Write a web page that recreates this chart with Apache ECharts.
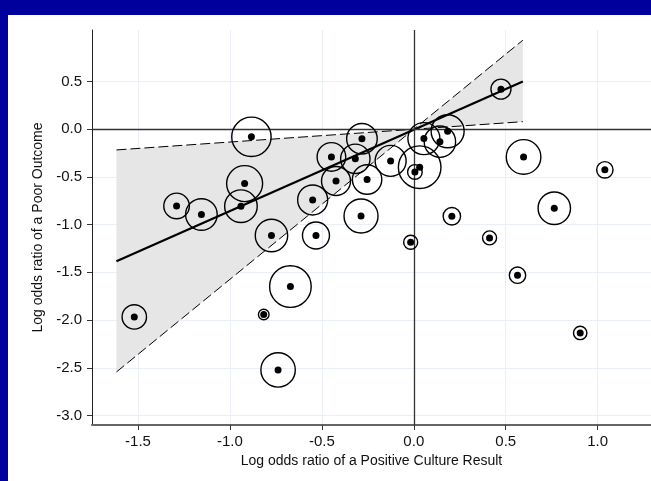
<!DOCTYPE html>
<html lang="en">
<head>
    <meta charset="utf-8">
    <script src="https://cdn.jsdelivr.net/npm/echarts@6.0.0/dist/echarts.min.js"></script>
    <style>
        html, body { margin: 0; padding: 0; background: #00009c; }
        #main { position: absolute; left: 8px; top: 15px; width: 643px; height: 466px; background: #fff; }
    </style>
</head>
<body>
<div id="main"></div>
<script>
    // study estimates: log OR positive culture (x), log OR poor outcome (y), weight
    var studyX = [-1.52, -1.29, -1.155, -0.94, -0.92, -0.883, -0.816, -0.774, -0.738, -0.671, -0.55,
        -0.532, -0.448, -0.423, -0.318, -0.282, -0.287, -0.254, -0.126, -0.017, 0.006, 0.032, 0.055,
        0.142, 0.184, 0.207, 0.412, 0.474, 0.564, 0.597, 0.764, 0.905, 1.039];
    var studyY = [-1.967, -0.804, -0.894, -0.807, -0.57, -0.08, -1.942, -1.114, -2.523, -1.649, -0.741,
        -1.114, -0.29, -0.542, -0.31, -0.10, -0.909, -0.527, -0.332, -1.185, -0.448, -0.398, -0.098,
        -0.13, -0.021, -0.912, -1.139, 0.42, -1.53, -0.29, -0.828, -2.135, -0.426];
    var studyWeight = [12.2, 12.8, 15.8, 16.3, 18, 19.7, 5.3, 16.2, 17.2, 20.8, 15,
        13.5, 14.3, 14.5, 14.7, 15.3, 17, 14.7, 15.5, 7, 7.3, 21.3, 16,
        15.7, 16.5, 8.7, 7, 10, 8.2, 17.3, 16.2, 6.7, 8.2];

    // fitted line and confidence limits
    var fitLine = [[-1.617, -1.384], [0.593, 0.5]];
    var ciShallow = [[-1.617, -0.217], [0.593, 0.079]];
    var ciSteep = [[-1.617, -2.544], [0.593, 0.933]];
    var bandPolygon = [[-1.617, -0.217], [0, 0], [0.593, 0.933], [0.593, 0.079], [0, 0], [-1.617, -2.544]];

    var xTicks = [-1.5, -1.0, -0.5, 0.0, 0.5, 1.0];
    var yTicks = [-3.0, -2.5, -2.0, -1.5, -1.0, -0.5, 0.0, 0.5];

    var points = studyX.map(function (x, i) { return [x, studyY[i], studyWeight[i]]; });

    var font = 'Liberation Sans, Arial, sans-serif';
    var chart = echarts.init(document.getElementById('main'));
    chart.setOption({
        animation: false,
        grid: { left: 84, top: 15, right: 0, bottom: 56 },
        xAxis: {
            type: 'value', min: -1.75, max: 1.29,
            name: 'Log odds ratio of a Positive Culture Result',
            nameLocation: 'middle', nameGap: 29,
            nameTextStyle: { fontFamily: font, fontSize: 14, color: '#111' },
            axisLine: { onZero: false, lineStyle: { color: '#666', width: 2 } },
            axisTick: { show: true, length: 5, customValues: xTicks, lineStyle: { color: '#333' } },
            axisLabel: { customValues: xTicks, margin: 9, fontFamily: font, fontSize: 15, color: '#111',
                formatter: function (v) { return v.toFixed(1); } },
            splitLine: { show: true, lineStyle: { color: '#eaeef6', width: 1 } }
        },
        yAxis: {
            type: 'value', min: -3.1, max: 1.04,
            name: 'Log odds ratio of a Poor Outcome',
            nameLocation: 'middle', nameGap: 44,
            nameTextStyle: { fontFamily: font, fontSize: 14, color: '#111' },
            axisLine: { show: true, onZero: false, lineStyle: { color: '#222', width: 1 } },
            axisTick: { show: true, length: 5, customValues: yTicks, lineStyle: { color: '#333' } },
            axisLabel: { customValues: yTicks, margin: 10, fontFamily: font, fontSize: 15, color: '#111',
                formatter: function (v) { return v.toFixed(1); } },
            splitLine: { show: true, lineStyle: { color: '#eaeef6', width: 1 } }
        },
        series: [
            {
                type: 'custom', z: 1, silent: true,
                data: [0],
                renderItem: function (params, api) {
                    return {
                        type: 'polygon',
                        shape: { points: bandPolygon.map(function (p) { return api.coord(p); }) },
                        style: { fill: '#e6e6e6', stroke: null }
                    };
                }
            },
            {
                type: 'line', z: 3, data: ciShallow, symbol: 'none', silent: true,
                lineStyle: { color: '#000', width: 1, type: [10, 4] }
            },
            {
                type: 'line', z: 3, data: ciSteep, symbol: 'none', silent: true,
                lineStyle: { color: '#000', width: 1, type: [10, 4] }
            },
            {
                type: 'line', z: 4, data: fitLine, symbol: 'none', silent: true,
                lineStyle: { color: '#000', width: 2.2 },
                markLine: {
                    silent: true, symbol: 'none', label: { show: false },
                    lineStyle: { color: '#333', width: 1.3, type: 'solid' },
                    data: [{ xAxis: 0 }, { yAxis: 0 }]
                }
            },
            {
                type: 'scatter', z: 5, data: points, silent: true,
                symbol: 'circle',
                symbolSize: function (v) { return v[2] * 2; },
                itemStyle: { color: 'rgba(0,0,0,0)', borderColor: '#000', borderWidth: 1.4, opacity: 1 }
            },
            {
                type: 'scatter', z: 6, data: points, silent: true,
                symbol: 'circle', symbolSize: 7,
                itemStyle: { color: '#000', opacity: 1 }
            }
        ]
    });
</script>
</body>
</html>
